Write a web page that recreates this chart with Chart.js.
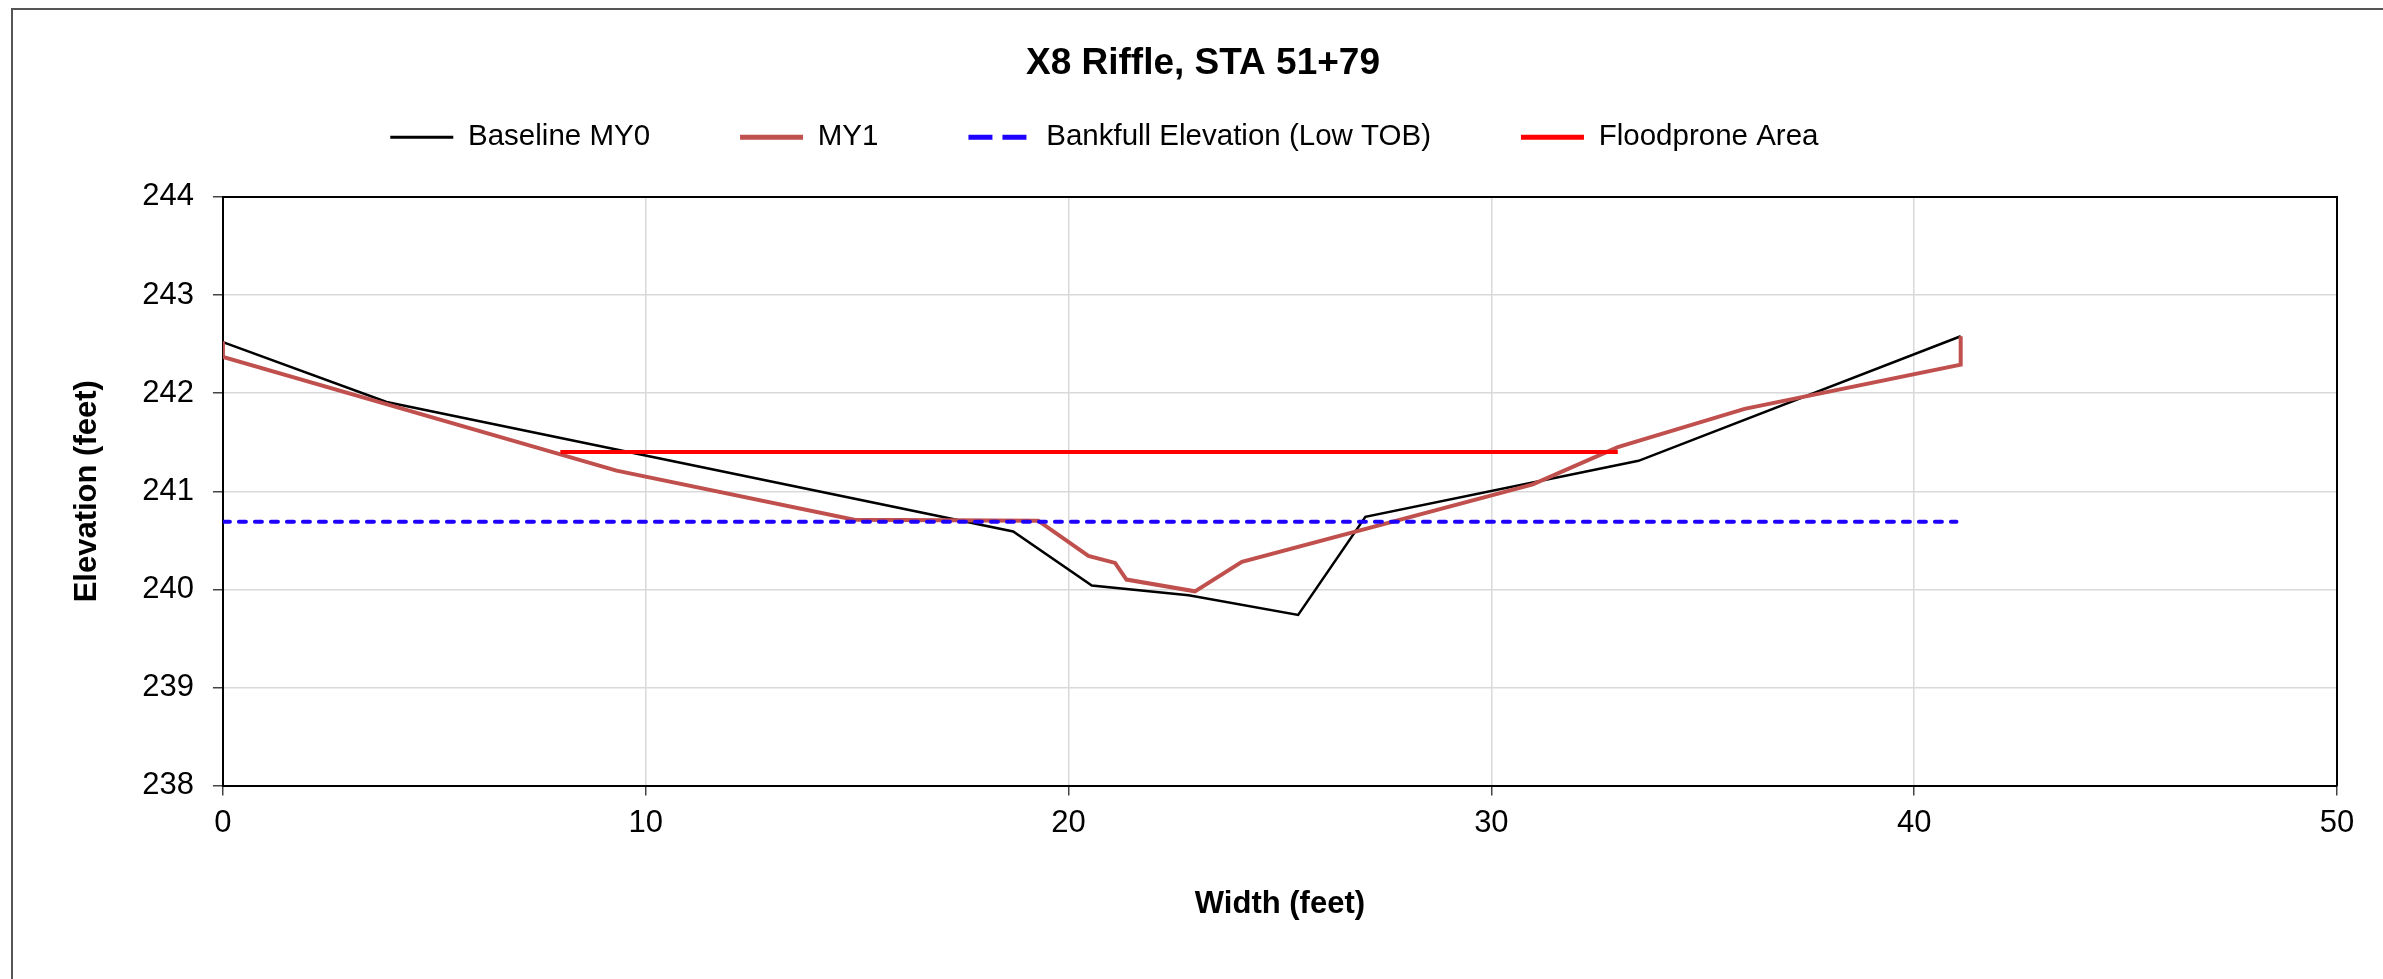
<!DOCTYPE html>
<html>
<head>
<meta charset="utf-8">
<title>X8 Riffle, STA 51+79</title>
<script src="https://cdn.jsdelivr.net/npm/chart.js@4.4.1/dist/chart.umd.min.js"></script>
<style>
  html, body { margin: 0; padding: 0; background: #fff; }
  #wrap { width: 2383px; height: 979px; }
</style>
</head>
<body>
<div id="wrap"><canvas id="grafico" width="2383" height="979"></canvas></div>
<script>
// cross section survey, width (feet) vs elevation (feet)
const baselineX = [0, 3.87, 18.69, 20.55, 22.84, 25.43, 27.02, 33.48, 41.1];
const baselineY = [242.52, 241.91, 240.59, 240.04, 239.94, 239.74, 240.74, 241.31, 242.58];

const my1X = [0, 0, 9.31, 14.93, 19.28, 20.47, 21.1, 21.37, 22.99, 24.1, 30.98, 32.99, 35.99, 41.1, 41.1];
const my1Y = [242.53, 242.37, 241.21, 240.71, 240.7, 240.34, 240.27, 240.1, 239.98, 240.28, 241.07, 241.45, 241.84, 242.29, 242.58];

const bankfullX = [0, 41.0];
const bankfullY = [240.69, 240.69];

const floodproneX = [7.98, 32.99];
const floodproneY = [241.4, 241.4];

const xTicks = [0, 10, 20, 30, 40, 50];
const yTicks = [238, 239, 240, 241, 242, 243, 244];

function pontos(xs, ys) {
  return xs.map((x, i) => ({ x: x, y: ys[i] }));
}

Chart.defaults.font.family = '"Liberation Sans", Arial, sans-serif';
Chart.defaults.color = "#000";

// thin frame around the whole chart, like the spreadsheet export
const moldura = {
  id: "moldura",
  beforeDraw(chart) {
    const ctx = chart.ctx;
    ctx.save();
    ctx.fillStyle = "#fff";
    ctx.fillRect(0, 0, chart.width, chart.height);
    ctx.strokeStyle = "#555";
    ctx.lineWidth = 2;
    ctx.strokeRect(12, 9, 2500, 1100);
    ctx.restore();
  },
};

const eixoBase = {
  type: "linear",
  grid: {
    color: "#d9d9d9",
    lineWidth: 1.5,
    tickColor: "#444",
    tickWidth: 1.5,
    tickLength: 10,
  },
  border: { color: "#000", width: 2 },
};

// legend strokes are a bit heavier than the plotted lines
const legendaEstilo = [
  { width: 3, dash: [] },
  { width: 5, dash: [] },
  { width: 5, dash: [24, 10] },
  { width: 5, dash: [] },
];

const ctx = document.getElementById("grafico").getContext("2d");

new Chart(ctx, {
  type: "scatter",
  data: {
    datasets: [
      {
        label: "Baseline MY0",
        data: pontos(baselineX, baselineY),
        borderColor: "#000",
        backgroundColor: "#000",
        borderWidth: 2.5,
        order: 4,
      },
      {
        label: "MY1",
        data: pontos(my1X, my1Y),
        borderColor: "#c0504d",
        backgroundColor: "#c0504d",
        borderWidth: 4,
        order: 3,
      },
      {
        label: "Bankfull Elevation (Low TOB)",
        data: pontos(bankfullX, bankfullY),
        borderColor: "#1e00ff",
        backgroundColor: "#1e00ff",
        borderWidth: 4,
        borderDash: [7, 9],
        borderCapStyle: "round",
        order: 2,
      },
      {
        label: "Floodprone Area",
        data: pontos(floodproneX, floodproneY),
        borderColor: "#ff0000",
        backgroundColor: "#ff0000",
        borderWidth: 4,
        order: 1,
      },
    ],
  },
  options: {
    responsive: false,
    animation: false,
    showLine: true,
    elements: {
      point: { radius: 0, hoverRadius: 0 },
      line: { tension: 0 },
    },
    layout: {
      padding: { top: 20, left: 69, right: 46, bottom: 56 },
    },
    plugins: {
      tooltip: { enabled: false },
      title: {
        display: true,
        text: "X8 Riffle, STA 51+79",
        font: { size: 37, weight: "bold" },
        padding: { top: 22, bottom: -54 },
      },
      legend: {
        position: "top",
        labels: {
          font: { size: 29.5 },
          usePointStyle: true,
          pointStyle: "line",
          pointStyleWidth: 63,
          padding: 90,
          sort: (a, b) => a.datasetIndex - b.datasetIndex,
          generateLabels(chart) {
            const itens = Chart.defaults.plugins.legend.labels.generateLabels(chart);
            itens.forEach((item) => {
              const est = legendaEstilo[item.datasetIndex];
              const ds = chart.data.datasets[item.datasetIndex];
              item.strokeStyle = ds.borderColor;
              item.lineWidth = est.width;
              item.lineDash = est.dash;
              item.lineCap = "butt";
            });
            // empty slot at the end so the row sits left of centre
            itens.push({
              text: "\u2003",
              datasetIndex: 99,
              lineWidth: 0,
              strokeStyle: "rgba(0,0,0,0)",
              fillStyle: "rgba(0,0,0,0)",
              pointStyle: "line",
            });
            return itens;
          },
        },
      },
    },
    scales: {
      x: {
        ...eixoBase,
        position: "bottom",
        min: 0,
        max: 50,
        afterBuildTicks(scale) {
          scale.ticks = xTicks.map((v) => ({ value: v }));
        },
        ticks: { font: { size: 31 }, padding: 9, color: "#000" },
        title: {
          display: true,
          text: "Width (feet)",
          font: { size: 31, weight: "bold" },
          padding: { top: 35, bottom: 0 },
        },
      },
      y: {
        ...eixoBase,
        position: "left",
        min: 238,
        max: 244,
        afterBuildTicks(scale) {
          scale.ticks = yTicks.map((v) => ({ value: v }));
        },
        ticks: { font: { size: 31 }, padding: 19, color: "#000" },
        title: {
          display: true,
          text: "Elevation (feet)",
          font: { size: 31, weight: "bold" },
          padding: { top: 0, bottom: 17 },
        },
      },
      x2: {
        type: "linear",
        position: "top",
        min: 0,
        max: 50,
        grid: { display: false },
        ticks: { display: false },
        border: { color: "#000", width: 2 },
        afterFit(scale) {
          scale.height = 35;
        },
      },
      y2: {
        type: "linear",
        position: "right",
        min: 238,
        max: 244,
        grid: { display: false },
        ticks: { display: false },
        border: { color: "#000", width: 2 },
        afterFit(scale) {
          scale.width = 0;
        },
      },
    },
  },
  plugins: [moldura],
});
</script>
</body>
</html>
